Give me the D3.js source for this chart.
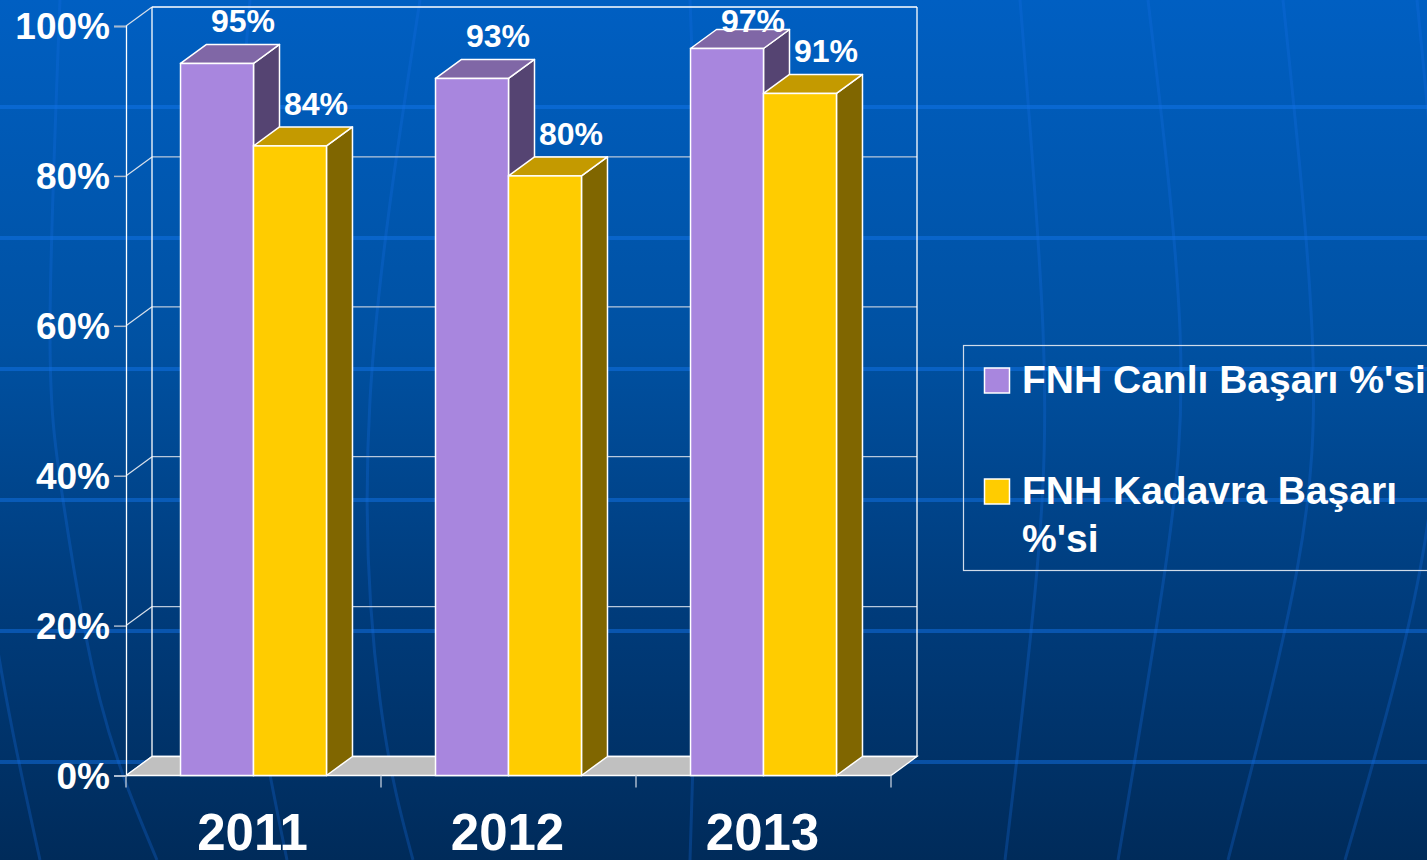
<!DOCTYPE html>
<html>
<head>
<meta charset="utf-8">
<script src="https://cdn.jsdelivr.net/npm/d3@7"></script>
<style>
  html, body { margin: 0; padding: 0; overflow: hidden; background: #003366; }
  svg { display: block; font-family: 'Liberation Sans', Arial, sans-serif; font-weight: bold; }
</style>
</head>
<body>
<div id="chart"></div>
<script>
const years = ['2011', '2012', '2013']
const seriesNames = ['FNH Canlı Başarı %\'si', 'FNH Kadavra Başarı %\'si']
const canli = [0.95, 0.93, 0.97]
const kadavra = [0.84, 0.80, 0.91]
const yTicks = [0, 0.2, 0.4, 0.6, 0.8, 1]

const W = 1427
const H = 860
const LEFT = 126, RIGHT = 891, TOP = 26, BOTTOM = 775.5
const DX = 26, DY = -19

const FRONT = ['#a886de', '#ffcc00']
const TOPC = ['#8067a6', '#c49a00']
const SIDE = ['#554472', '#806600']

const svg = d3.select('#chart')
  .append('svg')
  .attr('width', W)
  .attr('height', H)

// background
const defs = svg.append('defs')
const grad = defs.append('linearGradient')
  .attr('id', 'bg').attr('x1', 0).attr('y1', 0).attr('x2', 0).attr('y2', 1)
grad.append('stop').attr('offset', '0%').attr('stop-color', '#005fc2')
grad.append('stop').attr('offset', '40%').attr('stop-color', '#0051a2')
grad.append('stop').attr('offset', '70%').attr('stop-color', '#003c7c')
grad.append('stop').attr('offset', '100%').attr('stop-color', '#002b5a')

svg.append('rect').attr('width', W).attr('height', H).attr('fill', 'url(#bg)')

// decorative globe lines of the slide template
const bgRows = [107, 238, 369, 500, 631, 762]
svg.selectAll('.bg-row')
  .data(bgRows)
  .enter()
  .append('line')
  .attr('class', 'bg-row')
  .attr('x1', 0).attr('x2', W)
  .attr('y1', d => d).attr('y2', d => d)
  .attr('stroke', 'rgba(20,120,240,0.45)')
  .attr('stroke-width', 4)

const meridians = [
  [[60, 0], [50, 330], [63, 500], [100, 700], [157, 860]],
  [[-40, 300], [-10, 600], [40, 860]],
  [[250, 0], [230, 350], [250, 650], [287, 860]],
  [[420, 0], [370, 400], [380, 700], [413, 860]],
  [[690, 0], [700, 400], [690, 860]],
  [[1020, 0], [1043, 330], [1037, 570], [1005, 860]],
  [[1148, 0], [1180, 330], [1165, 570], [1118, 860]],
  [[1283, 0], [1312, 330], [1297, 570], [1228, 860]],
  [[1417, 0], [1440, 300], [1420, 570], [1345, 860]]
]
const curve = d3.line().curve(d3.curveNatural)
svg.selectAll('.bg-meridian')
  .data(meridians)
  .enter()
  .append('path')
  .attr('class', 'bg-meridian')
  .attr('d', curve)
  .attr('fill', 'none')
  .attr('stroke', 'rgba(20,110,230,0.28)')
  .attr('stroke-width', 3)

// scales
const x0 = d3.scaleBand().domain(years).range([LEFT, RIGHT]).padding(0)
const x1 = d3.scaleBand()
  .domain(seriesNames)
  .range([0, x0.bandwidth()])
  .paddingInner(0)
  .paddingOuter(0.747)
const y = d3.scaleLinear().domain([0, 1]).range([BOTTOM, TOP])

const g = svg.append('g')

// back wall gridlines
g.selectAll('.grid')
  .data(yTicks)
  .enter()
  .append('line')
  .attr('class', 'grid')
  .attr('x1', LEFT + DX).attr('x2', RIGHT + DX)
  .attr('y1', d => y(d) + DY).attr('y2', d => y(d) + DY)
  .attr('stroke', d => d === 0 || d === 1 ? '#ffffff' : '#b8c8dc')
  .attr('stroke-width', 1.3)

// side wall diagonals
g.selectAll('.diag')
  .data(yTicks)
  .enter()
  .append('line')
  .attr('class', 'diag')
  .attr('x1', LEFT).attr('x2', LEFT + DX)
  .attr('y1', d => y(d)).attr('y2', d => y(d) + DY)
  .attr('stroke', '#d8e0ea')
  .attr('stroke-width', 1.2)

// back wall edges
g.append('line')
  .attr('x1', LEFT + DX).attr('x2', LEFT + DX)
  .attr('y1', y(1) + DY).attr('y2', y(0) + DY)
  .attr('stroke', '#ffffff').attr('stroke-width', 1.3)
g.append('line')
  .attr('x1', RIGHT + DX).attr('x2', RIGHT + DX)
  .attr('y1', y(1) + DY).attr('y2', y(0) + DY)
  .attr('stroke', '#ffffff').attr('stroke-width', 1.3)

// floor
const floorPts = [[LEFT, y(0)], [RIGHT, y(0)], [RIGHT + DX, y(0) + DY], [LEFT + DX, y(0) + DY]]
g.append('polygon')
  .attr('points', floorPts.map(p => p.join(',')).join(' '))
  .attr('fill', '#c0c0c0')
  .attr('stroke', '#ffffff')
  .attr('stroke-width', 1.3)

// y axis
const yAxisCall = d3.axisLeft(y)
  .tickValues(yTicks)
  .tickFormat(d3.format('.0%'))
  .tickSize(12)
  .tickPadding(4)
const yAxis = g.append('g')
  .attr('transform', `translate(${LEFT}, 0)`)
  .call(yAxisCall)
yAxis.select('.domain').attr('stroke', '#ffffff').attr('stroke-width', 1.3)
yAxis.selectAll('.tick line').attr('stroke', '#a8b8cc').attr('stroke-width', 1.5)
yAxis.selectAll('.tick text')
  .attr('fill', '#ffffff')
  .attr('font-size', '37px')
  .attr('font-family', "'Liberation Sans', Arial, sans-serif")
  .attr('font-weight', 'bold')
  .attr('dy', '0.35em')

// x axis ticks at band edges
const edges = years.map(d => x0(d)).concat([RIGHT])
g.selectAll('.xtick')
  .data(edges)
  .enter()
  .append('line')
  .attr('class', 'xtick')
  .attr('x1', d => d).attr('x2', d => d)
  .attr('y1', y(0)).attr('y2', y(0) + 12)
  .attr('stroke', '#a8b8cc')
  .attr('stroke-width', 1.5)

g.selectAll('.year')
  .data(years)
  .enter()
  .append('text')
  .attr('class', 'year')
  .attr('x', d => x0(d) + x0.bandwidth() / 2 - 1)
  .attr('y', 850)
  .attr('text-anchor', 'middle')
  .attr('fill', '#ffffff')
  .attr('font-size', '51px')
  .text(d => d)

// bars
const bars = []
years.forEach((yr, i) => {
  bars.push({ year: yr, s: 0, value: canli[i] })
  bars.push({ year: yr, s: 1, value: kadavra[i] })
})

const w = x1.bandwidth()
const barG = g.selectAll('.bar')
  .data(bars)
  .enter()
  .append('g')
  .attr('class', 'bar')

function pts(arr) { return arr.map(p => p.join(',')).join(' ') }

barG.append('polygon')
  .attr('points', d => {
    const x = x0(d.year) + x1(seriesNames[d.s])
    const yv = y(d.value), y0 = y(0)
    return pts([[x + w, yv], [x + w + DX, yv + DY], [x + w + DX, y0 + DY], [x + w, y0]])
  })
  .attr('fill', d => SIDE[d.s])
  .attr('stroke', '#ffffff')
  .attr('stroke-width', 1.5)
  .attr('stroke-linejoin', 'round')

barG.append('polygon')
  .attr('points', d => {
    const x = x0(d.year) + x1(seriesNames[d.s])
    const yv = y(d.value)
    return pts([[x, yv], [x + DX, yv + DY], [x + w + DX, yv + DY], [x + w, yv]])
  })
  .attr('fill', d => TOPC[d.s])
  .attr('stroke', '#ffffff')
  .attr('stroke-width', 1.5)
  .attr('stroke-linejoin', 'round')

barG.append('rect')
  .attr('x', d => x0(d.year) + x1(seriesNames[d.s]))
  .attr('y', d => y(d.value))
  .attr('width', w)
  .attr('height', d => y(0) - y(d.value))
  .attr('fill', d => FRONT[d.s])
  .attr('stroke', '#ffffff')
  .attr('stroke-width', 1.5)

// value labels
g.selectAll('.val')
  .data(bars)
  .enter()
  .append('text')
  .attr('class', 'val')
  .attr('x', d => x0(d.year) + x1(seriesNames[d.s]) + w / 2 + DX)
  .attr('y', d => Math.max(32, y(d.value) - 31))
  .attr('text-anchor', 'middle')
  .attr('fill', '#ffffff')
  .attr('font-size', '32px')
  .text(d => d3.format('.0%')(d.value))

// legend
const legend = svg.append('g')
legend.append('rect')
  .attr('x', 963.5).attr('y', 345.5)
  .attr('width', 520).attr('height', 225)
  .attr('fill', 'none')
  .attr('stroke', '#d0dcea')
  .attr('stroke-width', 1.2)

const legendItems = [
  { lines: ['FNH Canlı Başarı %\'si'], y: 393, s: 0 },
  { lines: ['FNH Kadavra Başarı', '%\'si'], y: 504, s: 1 }
]
legendItems.forEach(it => {
  legend.append('rect')
    .attr('x', 984.5).attr('y', it.y - 25)
    .attr('width', 25).attr('height', 25)
    .attr('fill', FRONT[it.s])
    .attr('stroke', '#ffffff')
    .attr('stroke-width', 1.5)
  const t = legend.append('text')
    .attr('x', 1022)
    .attr('y', it.y)
    .attr('fill', '#ffffff')
    .attr('font-size', '39px')
  it.lines.forEach((ln, k) => {
    t.append('tspan').attr('x', 1022).attr('dy', k === 0 ? 0 : 48).text(ln)
  })
})
</script>
</body>
</html>
